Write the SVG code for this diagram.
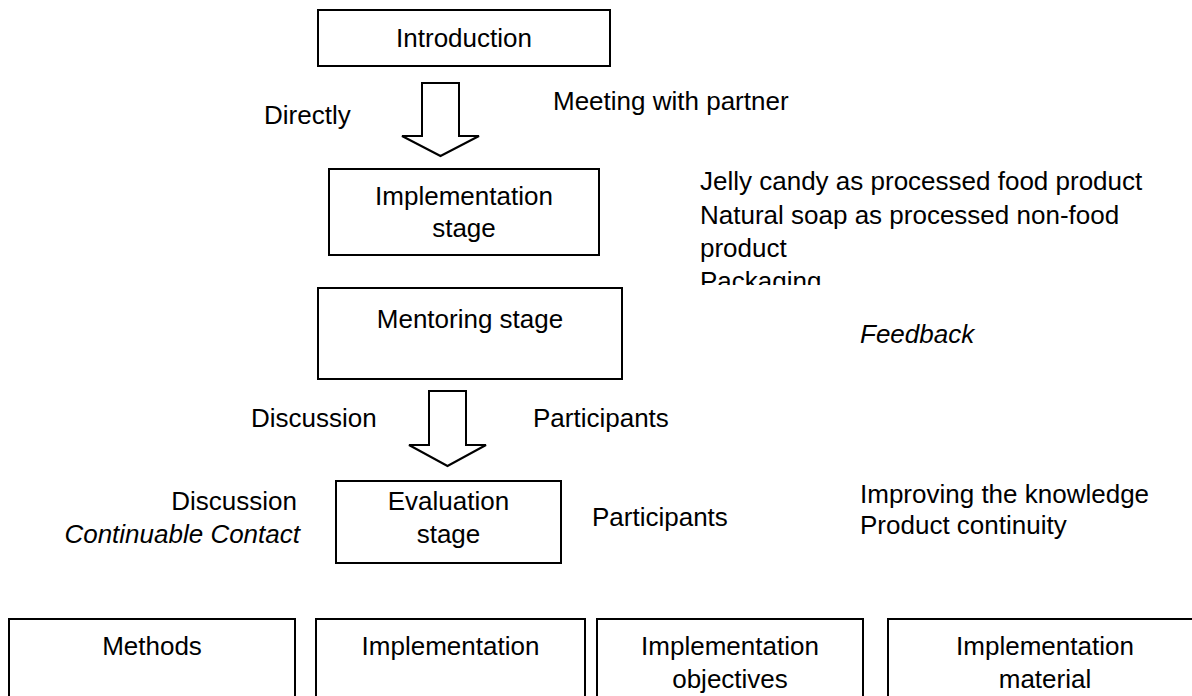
<svg xmlns="http://www.w3.org/2000/svg" width="1192" height="696" viewBox="0 0 1192 696">
<style>
  .box { fill: #fff; stroke: #000; stroke-width: 2; }
  .arrow { fill: #fff; stroke: #000; stroke-width: 2; stroke-linejoin: miter; }
  text { font-family: "Liberation Sans", Arial, sans-serif; font-size: 26px; fill: #000; }
  .c { text-anchor: middle; }
  .r { text-anchor: end; }
  .i { font-style: italic; }
</style>
<defs>
  <clipPath id="clipPack"><rect x="690" y="160" width="500" height="125"/></clipPath>
</defs>
<rect width="1192" height="696" fill="#fff"/>

<g id="connectors">
  <path class="arrow" d="M422,83 H459 V136 H479 L440.5,156 L402,136 H422 Z"/>
  <path class="arrow" d="M429,391 H466 V445 H486 L447.5,466 L409,445 H429 Z"/>
</g>

<g id="introduction">
  <rect class="box" x="318" y="10" width="292" height="56"/>
  <text class="c" x="464" y="47">Introduction</text>
</g>
<g id="label-directly"><text x="264" y="124">Directly</text></g>
<g id="label-meeting"><text x="553" y="110">Meeting with partner</text></g>

<g id="implementation-stage">
  <rect class="box" x="329" y="169" width="270" height="86"/>
  <text class="c" x="464" y="205">Implementation</text>
  <text class="c" x="464" y="237">stage</text>
</g>

<g id="products" clip-path="url(#clipPack)">
  <text x="700" y="190">Jelly candy as processed food product</text>
  <text x="700" y="224">Natural soap as processed non-food</text>
  <text x="700" y="257">product</text>
  <text x="700" y="290">Packaging</text>
</g>

<g id="mentoring-stage">
  <rect class="box" x="318" y="288" width="304" height="91"/>
  <text class="c" x="470" y="328">Mentoring stage</text>
</g>
<g id="label-feedback"><text class="i" x="860" y="343">Feedback</text></g>

<g id="label-discussion1"><text x="251" y="427">Discussion</text></g>
<g id="label-participants1"><text x="533" y="427">Participants</text></g>

<g id="evaluation-stage">
  <rect class="box" x="336" y="481" width="225" height="82"/>
  <text class="c" x="448.5" y="510">Evaluation</text>
  <text class="c" x="448.5" y="543">stage</text>
</g>
<g id="label-discussion2">
  <text class="r" x="297" y="510">Discussion</text>
  <text class="r i" x="300" y="543">Continuable Contact</text>
</g>
<g id="label-participants2"><text x="592" y="526">Participants</text></g>
<g id="label-outcomes">
  <text x="860" y="503">Improving the knowledge</text>
  <text x="860" y="534">Product continuity</text>
</g>

<g id="methods">
  <rect class="box" x="9" y="619" width="286" height="100"/>
  <text class="c" x="152" y="655">Methods</text>
</g>
<g id="implementation">
  <rect class="box" x="316" y="619" width="269" height="100"/>
  <text class="c" x="450.5" y="655">Implementation</text>
</g>
<g id="implementation-objectives">
  <rect class="box" x="597" y="619" width="266" height="100"/>
  <text class="c" x="730" y="655">Implementation</text>
  <text class="c" x="730" y="688">objectives</text>
</g>
<g id="implementation-material">
  <rect class="box" x="888" y="619" width="314" height="100"/>
  <text class="c" x="1045" y="655">Implementation</text>
  <text class="c" x="1045" y="688">material</text>
</g>
</svg>
